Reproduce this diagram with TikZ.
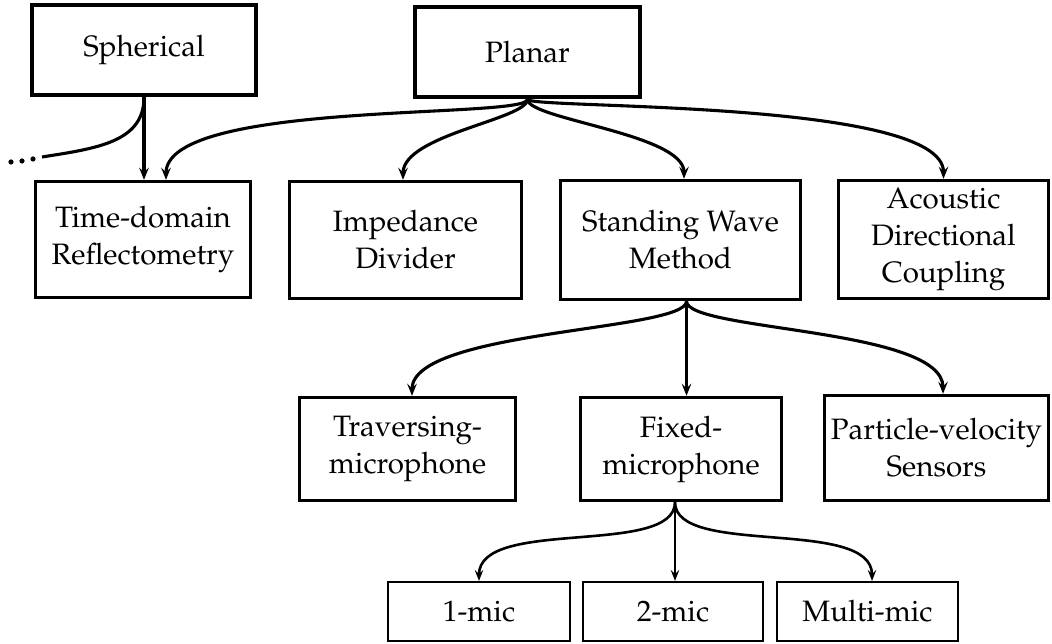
\documentclass[tikz,border=0pt]{standalone}
\usepackage[T1]{fontenc}
\usepackage{mathpazo}
\usetikzlibrary{arrows.meta,calc}
\tikzset{
  box/.style={draw, rectangle, align=center, inner sep=0pt, text=black,
    font=\fontsize{29.5}{37}\selectfont},
  topbox/.style={box, line width=4.6pt},
  midbox/.style={box, line width=3.4pt},
  lowbox/.style={box, line width=2.1pt},
  arr/.style={line width=3.1pt, -{Stealth[length=12pt,width=9.5pt,inset=4.5pt]}},
  arrlow/.style={line width=2.6pt, -{Stealth[length=11pt,width=8.5pt,inset=4pt]}},
  plain/.style={line width=3.1pt},
}
\begin{document}
\begin{tikzpicture}[x=1pt,y=1pt]
\useasboundingbox (0,0) rectangle (1052,644);
% top level
\node[topbox, minimum width=224, minimum height=90] (sph) at (144,594) {Spherical};
\node[topbox, minimum width=225, minimum height=90] (pla) at (527.5,592) {Planar};
% second level
\node[midbox, minimum width=215, minimum height=116] (tdr) at (143,404.5) {Time-domain\\Reflectometry};
\node[midbox, minimum width=232, minimum height=117] (imp) at (405.5,404) {Impedance\\Divider};
\node[midbox, minimum width=240, minimum height=119] (swm) at (680.5,404) {Standing Wave\\Method};
\node[midbox, minimum width=210, minimum height=118] (adc) at (943.5,404.5) {Acoustic\\Directional\\Coupling};
% third level
\node[midbox, minimum width=216, minimum height=103] (tra) at (407.5,195) {Traversing-\\microphone};
\node[midbox, minimum width=201, minimum height=103] (fix) at (681,195) {Fixed-\\microphone};
\node[midbox, minimum width=224, minimum height=105] (pvs) at (936.5,196) {Particle-velocity\\Sensors};
% fourth level
\node[lowbox, minimum width=182, minimum height=59] (m1) at (479,32.5) {1-mic};
\node[lowbox, minimum width=180, minimum height=59] (m2) at (673,32.5) {2-mic};
\node[lowbox, minimum width=181, minimum height=59] (mm) at (867.5,32.5) {Multi-mic};
% connectors from Spherical
\coordinate (dotend) at (42,487);
\draw[plain] (sph.south) .. controls +(0,-45) and +(9:55) .. (dotend);
\foreach \p in {(11,482),(22,483),(33,485)} \fill \p circle (2.6);
\draw[arr] (sph.south) -- (sph.south |- tdr.north);
% connectors from Planar
\draw[arr] (pla.south) .. controls +(0,-20) and +(0,80) .. ($(tdr.north)+(23,0)$);
\draw[arr] (pla.south) .. controls +(0,-20) and +(0,45) .. ($(imp.north)+(-2.5,0)$);
\draw[arr] (pla.south) .. controls +(0,-20) and +(0,45) .. ($(swm.north)+(3.5,0)$);
\draw[arr] (pla.south) .. controls +(0,-10) and +(0,80) .. (adc.north);
% connectors from Standing Wave
\coordinate (swmO) at ($(swm.south)+(6,0)$);
\draw[arr] (swmO) .. controls +(0,-30) and +(0,66) .. ($(tra.north)+(4.5,0)$);
\draw[arr] (swmO) -- (swmO |- fix.north);
\draw[arr] (swmO) .. controls +(0,-30) and +(0,66) .. ($(pvs.north)+(6.5,0)$);
% connectors from Fixed
\coordinate (fixO) at ($(fix.south)+(-6,0)$);
\draw[arrlow] (fixO) .. controls +(0,-55) and +(0,64) .. (m1.north);
\draw[arrlow] (fixO) -- (fixO |- m2.north);
\draw[arrlow] (fixO) .. controls +(0,-55) and +(0,64) .. ($(mm.north)+(4.5,0)$);
\end{tikzpicture}
\end{document}
